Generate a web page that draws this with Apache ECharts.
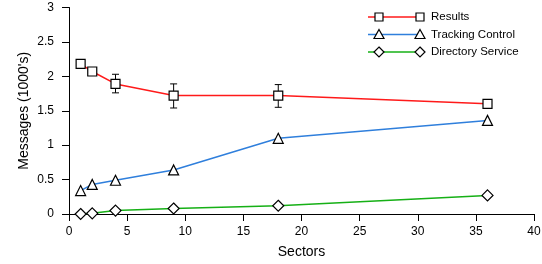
<!DOCTYPE html>
<html>
<head>
<meta charset="utf-8">
<script src="https://cdn.jsdelivr.net/npm/echarts@6/dist/echarts.min.js"></script>
<style>
  html, body { margin: 0; padding: 0; background: #fff; }
  #chart { width: 542px; height: 264px; }
</style>
</head>
<body>
<div id="chart"></div>
<script>
// data
const sectors = [1, 2, 4, 9, 18, 36]
const results = [2.18, 2.07, 1.89, 1.72, 1.72, 1.60]
const resultsLow = [null, null, 1.76, 1.54, 1.55, null]
const resultsHigh = [null, null, 2.03, 1.89, 1.88, null]
const tracking = [0.34, 0.43, 0.49, 0.64, 1.10, 1.36]
const directory = [0.0, 0.01, 0.05, 0.08, 0.12, 0.27]
const seriesNames = ['Results', 'Tracking Control', 'Directory Service']
const seriesColors = ['#ff1a1a', '#2f7fdc', '#16b016']
const symbols = ['rect', 'triangle', 'diamond']
const symbolSizes = [9, 10, 11]

const chart = echarts.init(document.getElementById('chart'))
const font = 'Liberation Sans, Arial, sans-serif'

const pairs = vals => sectors.map((s, i) => [s, vals[i]])
const errData = sectors.map((s, i) => [s, resultsLow[i], resultsHigh[i]]).filter(d => d[1] != null)

const lineSeries = [results, tracking, directory].map((vals, i) => ({
  name: seriesNames[i],
  type: 'line',
  data: pairs(vals),
  symbol: symbols[i],
  symbolSize: symbolSizes[i],
  showAllSymbol: true,
  lineStyle: { color: seriesColors[i], width: 1.5 },
  itemStyle: { color: '#fff', borderColor: '#000', borderWidth: 1.2 },
  z: 3
}))

const errSeries = {
  type: 'custom',
  data: errData,
  z: 2,
  renderItem: (params, api) => {
    const x = api.value(0)
    const lo = api.coord([x, api.value(1)])
    const hi = api.coord([x, api.value(2)])
    const st = { stroke: '#000', lineWidth: 1 }
    return {
      type: 'group',
      children: [
        { type: 'line', shape: { x1: lo[0], y1: lo[1], x2: hi[0], y2: hi[1] }, style: st },
        { type: 'line', shape: { x1: lo[0] - 3.5, y1: lo[1], x2: lo[0] + 3.5, y2: lo[1] }, style: st },
        { type: 'line', shape: { x1: hi[0] - 3.5, y1: hi[1], x2: hi[0] + 3.5, y2: hi[1] }, style: st }
      ]
    }
  }
}

// legend drawn by hand: line with a marker at both ends
function marker(kind, cx, cy) {
  const st = { fill: '#fff', stroke: '#000', lineWidth: 1.2 }
  if (kind === 'rect') return { type: 'rect', shape: { x: cx - 4, y: cy - 4, width: 8, height: 8 }, style: st, z: 10 }
  if (kind === 'triangle') return { type: 'polygon', shape: { points: [[cx, cy - 5], [cx + 5, cy + 4], [cx - 5, cy + 4]] }, style: st, z: 10 }
  return { type: 'polygon', shape: { points: [[cx, cy - 5], [cx + 5, cy], [cx, cy + 5], [cx - 5, cy]] }, style: st, z: 10 }
}
const legendGraphic = []
seriesNames.forEach((name, i) => {
  const y = 17 + i * 17.5
  legendGraphic.push({ type: 'line', shape: { x1: 368, y1: y, x2: 420, y2: y }, style: { stroke: seriesColors[i], lineWidth: 1.5 }, z: 9 })
  legendGraphic.push(marker(symbols[i], 379, y))
  legendGraphic.push(marker(symbols[i], 420, y))
  legendGraphic.push({ type: 'text', x: 431, y: y, style: { text: name, fill: '#000', font: '11.5px ' + font, verticalAlign: 'middle' }, z: 10 })
})

const option = {
  animation: false,
  grid: { left: 69, right: 8, top: 7.5, bottom: 50, outerBoundsMode: 'none' },
  xAxis: {
    type: 'value',
    min: 0,
    max: 40,
    interval: 5,
    name: 'Sectors',
    nameLocation: 'middle',
    nameGap: 31,
    nameMoveOverlap: false,
    nameTextStyle: { color: '#000', fontSize: 14, fontFamily: font },
    axisLine: { lineStyle: { color: '#000', width: 1 } },
    axisTick: { length: 7, lineStyle: { color: '#000' } },
    axisLabel: { color: '#000', fontSize: 12, fontFamily: font, margin: 12 },
    splitLine: { show: false }
  },
  yAxis: {
    type: 'value',
    min: 0,
    max: 3,
    interval: 0.5,
    name: "Messages (1000's)",
    nameLocation: 'middle',
    nameGap: 38,
    nameMoveOverlap: false,
    nameTextStyle: { color: '#000', fontSize: 14, fontFamily: font },
    axisLine: { show: true, lineStyle: { color: '#000', width: 1 } },
    axisTick: { show: true, length: 7, lineStyle: { color: '#000' } },
    axisLabel: { color: '#000', fontSize: 12, fontFamily: font, margin: 15 },
    splitLine: { show: false }
  },
  graphic: legendGraphic,
  series: [errSeries, ...lineSeries]
}
chart.setOption(option)
</script>
</body>
</html>
